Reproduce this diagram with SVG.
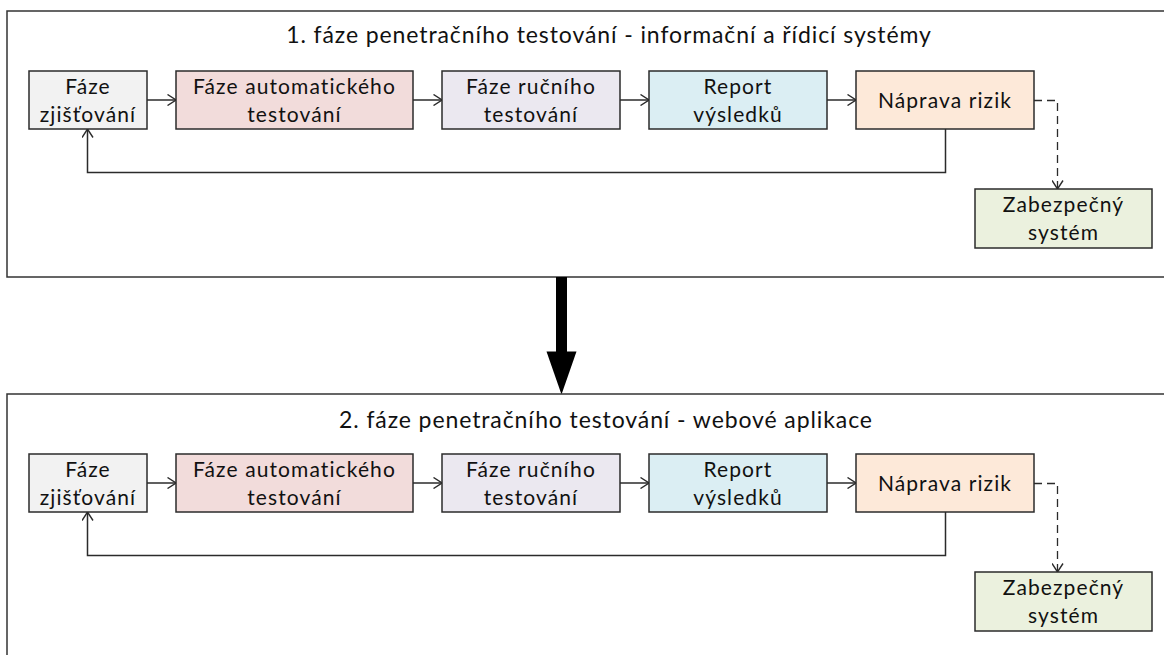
<svg xmlns="http://www.w3.org/2000/svg" width="1164" height="655" viewBox="0 0 1164 655">
  <defs>
    <style>
      .frame { fill: #ffffff; stroke: #333333; stroke-width: 1.5; }
      .box { stroke: #2b2b2b; stroke-width: 1.5; }
      .lbl { font-family: Lato, "Liberation Sans", sans-serif; font-size: 21px; fill: #111111; text-anchor: middle; letter-spacing: 1.1px; }
      .title { font-family: Lato, "Liberation Sans", sans-serif; font-size: 23px; fill: #111111; text-anchor: middle; letter-spacing: 0.9px; }
      .conn { fill: none; stroke: #2b2b2b; stroke-width: 1.5; }
      .dash { fill: none; stroke: #2b2b2b; stroke-width: 1.3; stroke-dasharray: 8 5; }
      .z { fill: #f2f2f2; }
      .a { fill: #f2dcdb; }
      .r { fill: #ebe8f0; }
      .p { fill: #dbeef3; }
      .n { fill: #fde9d9; }
      .s { fill: #ebf1de; }
    </style>
    <marker id="open" viewBox="0 0 10 12" refX="9.5" refY="6" markerWidth="10" markerHeight="12" markerUnits="userSpaceOnUse" orient="auto">
      <path d="M1,0.5 L9.5,6 L1,11.5" fill="none" stroke="#2b2b2b" stroke-width="1.4"/>
    </marker>
  </defs>

  <!-- phase 1 -->
  <g id="phase1">
    <rect class="frame" x="7" y="11" width="1170" height="266"/>
    <text class="title" x="609" y="43">1. fáze penetračního testování - informační a řídicí systémy</text>

    <g id="p1-connectors">
      <path class="conn" d="M147,100 L176,100" marker-end="url(#open)"/>
      <path class="conn" d="M413,100 L442,100" marker-end="url(#open)"/>
      <path class="conn" d="M620,100 L649,100" marker-end="url(#open)"/>
      <path class="conn" d="M827,100 L856,100" marker-end="url(#open)"/>
      <path class="conn" d="M945.5,129 L945.5,172.5 L87.5,172.5 L87.5,129" marker-end="url(#open)"/>
      <path class="dash" d="M1034,100.5 L1057.5,100.5 L1057.5,189" marker-end="url(#open)"/>
    </g>

    <g id="p1-discovery">
      <rect class="box z" x="29" y="71" width="118" height="58"/>
      <text class="lbl" x="88" y="94">Fáze</text>
      <text class="lbl" x="88" y="122">zjišťování</text>
    </g>
    <g id="p1-auto">
      <rect class="box a" x="176" y="71" width="237" height="58"/>
      <text class="lbl" x="294.5" y="94">Fáze automatického</text>
      <text class="lbl" x="294.5" y="122">testování</text>
    </g>
    <g id="p1-manual">
      <rect class="box r" x="442" y="71" width="178" height="58"/>
      <text class="lbl" x="531" y="94">Fáze ručního</text>
      <text class="lbl" x="531" y="122">testování</text>
    </g>
    <g id="p1-report">
      <rect class="box p" x="649" y="71" width="178" height="58"/>
      <text class="lbl" x="738" y="94">Report</text>
      <text class="lbl" x="738" y="122">výsledků</text>
    </g>
    <g id="p1-remedy">
      <rect class="box n" x="856" y="71" width="178" height="58"/>
      <text class="lbl" x="945" y="108">Náprava rizik</text>
    </g>
    <g id="p1-secure">
      <rect class="box s" x="975" y="189" width="177" height="59"/>
      <text class="lbl" x="1063.5" y="212">Zabezpečný</text>
      <text class="lbl" x="1063.5" y="240">systém</text>
    </g>
  </g>

  <!-- transition between phases -->
  <g id="phase-arrow">
    <rect x="556" y="277" width="11" height="75" fill="#000000"/>
    <polygon points="546.5,351.5 576.5,351.5 561.5,394.5" fill="#000000"/>
  </g>

  <!-- phase 2 -->
  <g id="phase2">
    <rect class="frame" x="7" y="394" width="1170" height="280"/>
    <text class="title" x="606" y="428">2. fáze penetračního testování - webové aplikace</text>

    <g transform="translate(0,383)">
      <g id="p2-connectors">
        <path class="conn" d="M147,100 L176,100" marker-end="url(#open)"/>
        <path class="conn" d="M413,100 L442,100" marker-end="url(#open)"/>
        <path class="conn" d="M620,100 L649,100" marker-end="url(#open)"/>
        <path class="conn" d="M827,100 L856,100" marker-end="url(#open)"/>
        <path class="conn" d="M945.5,129 L945.5,172.5 L87.5,172.5 L87.5,129" marker-end="url(#open)"/>
        <path class="dash" d="M1034,100.5 L1057.5,100.5 L1057.5,189" marker-end="url(#open)"/>
      </g>

      <g id="p2-discovery">
        <rect class="box z" x="29" y="71" width="118" height="58"/>
        <text class="lbl" x="88" y="94">Fáze</text>
        <text class="lbl" x="88" y="122">zjišťování</text>
      </g>
      <g id="p2-auto">
        <rect class="box a" x="176" y="71" width="237" height="58"/>
        <text class="lbl" x="294.5" y="94">Fáze automatického</text>
        <text class="lbl" x="294.5" y="122">testování</text>
      </g>
      <g id="p2-manual">
        <rect class="box r" x="442" y="71" width="178" height="58"/>
        <text class="lbl" x="531" y="94">Fáze ručního</text>
        <text class="lbl" x="531" y="122">testování</text>
      </g>
      <g id="p2-report">
        <rect class="box p" x="649" y="71" width="178" height="58"/>
        <text class="lbl" x="738" y="94">Report</text>
        <text class="lbl" x="738" y="122">výsledků</text>
      </g>
      <g id="p2-remedy">
        <rect class="box n" x="856" y="71" width="178" height="58"/>
        <text class="lbl" x="945" y="108">Náprava rizik</text>
      </g>
      <g id="p2-secure">
        <rect class="box s" x="975" y="189" width="177" height="59"/>
        <text class="lbl" x="1063.5" y="212">Zabezpečný</text>
        <text class="lbl" x="1063.5" y="240">systém</text>
      </g>
    </g>
  </g>
</svg>
